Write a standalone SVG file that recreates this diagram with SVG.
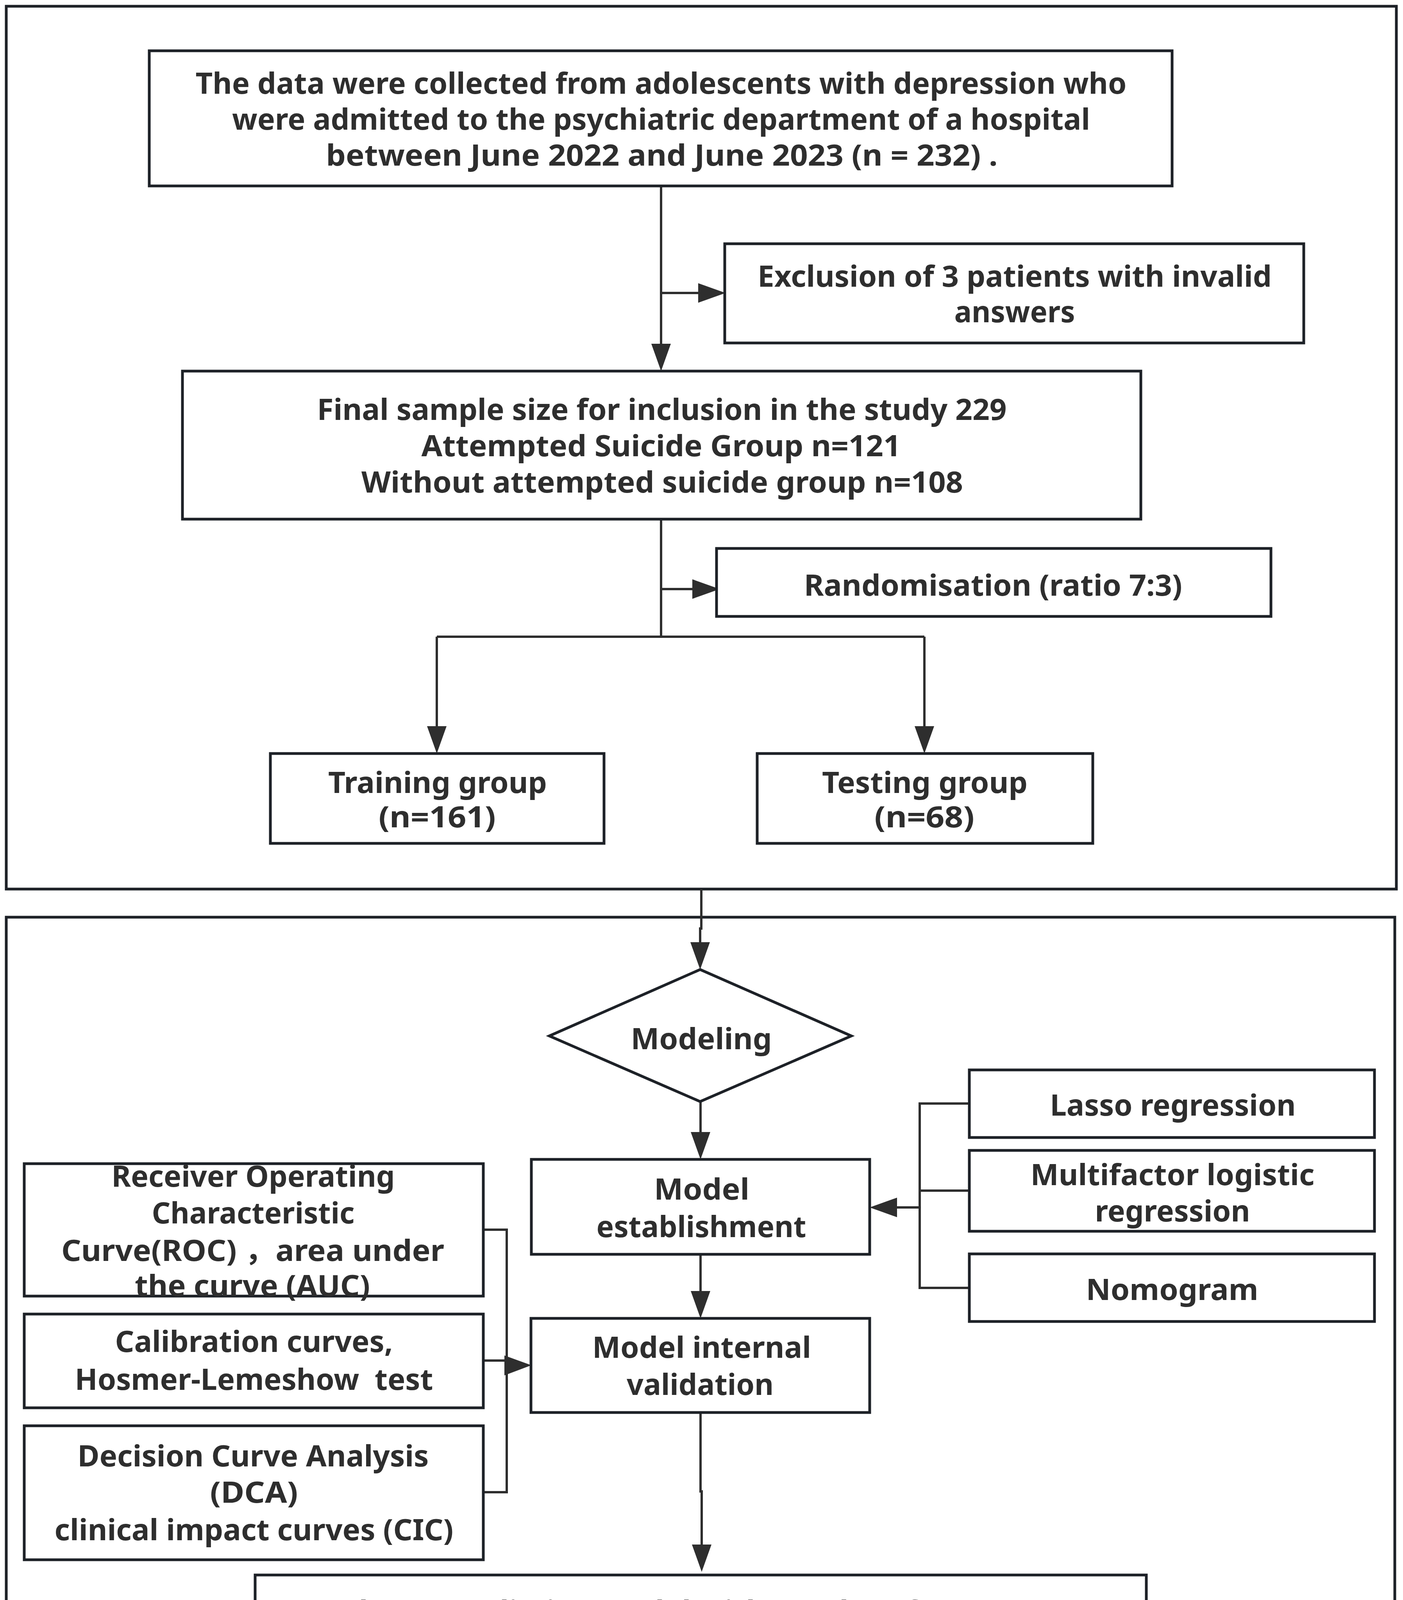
<svg xmlns="http://www.w3.org/2000/svg" width="3591" height="4577" viewBox="0 0 3591 4577">
<style>
.bg{fill:#ffffff}
.frame{fill:none;stroke:#1d2127;stroke-width:7}
.box{fill:#ffffff;stroke:#1d2127;stroke-width:7}
.c{fill:none;stroke:#2e2e2e;stroke-width:6}
.ah{fill:#2e2e2e}
.t{font-family:"Noto Sans","Liberation Sans","Noto Sans CJK SC",sans-serif;font-weight:700;font-size:76px;fill:#2e2e2e;text-anchor:middle}
</style>
<defs>
<marker id="arr" viewBox="0 0 70 50" refX="0" refY="25" markerWidth="70" markerHeight="50" markerUnits="userSpaceOnUse" orient="auto">
<path class="ah" d="M0,0 L70,25 L0,50 Z"/>
</marker>
</defs>
<rect class="bg" x="0" y="0" width="3591" height="4577"/>
<g id="frames">
<rect class="frame" x="16" y="16" width="3558" height="2260"/>
<rect class="frame" x="16" y="2348" width="3554" height="2215"/>
</g>
<g id="connectors">
<path class="c" d="M1692,476 V880" marker-end="url(#arr)"/>
<path class="c" d="M1692,750 H1787" marker-end="url(#arr)"/>
<path class="c" d="M1692,1329 V1630"/>
<path class="c" d="M1692,1508 H1772" marker-end="url(#arr)"/>
<path class="c" d="M1118,1630 H2366"/>
<path class="c" d="M1118,1630 V1859" marker-end="url(#arr)"/>
<path class="c" d="M2366,1630 V1859" marker-end="url(#arr)"/>
<path class="c" d="M1795,2276 V2377 H1792 V2412" marker-end="url(#arr)"/>
<path class="c" d="M1793,2820 V2898" marker-end="url(#arr)"/>
<path class="c" d="M1793,3211 V3305" marker-end="url(#arr)"/>
<path class="c" d="M2481,2825 H2354 V3297 H2481"/>
<path class="c" d="M2354,3048 H2481"/>
<path class="c" d="M2354,3091 H2296" marker-end="url(#arr)"/>
<path class="c" d="M1237,3148 H1297 V3820 H1237"/>
<path class="c" d="M1237,3483 H1297"/>
<polygon class="ah" points="1291,3470 1360,3495 1291,3521"/>
<path class="c" d="M1793,3616 V3818 H1796 V3954" marker-end="url(#arr)"/>
</g>
<g id="node-data">
<rect class="box" x="382" y="130" width="2618" height="346"/>
<text class="t" x="1692" y="240" textLength="2383" lengthAdjust="spacingAndGlyphs">The data were collected from adolescents with depression who</text>
<text class="t" x="1692" y="332" textLength="2196" lengthAdjust="spacingAndGlyphs">were admitted to the psychiatric department of a hospital</text>
<text class="t" x="1694" y="424" textLength="1719" lengthAdjust="spacingAndGlyphs">between June 2022 and June 2023 (n = 232) .</text>
</g>
<g id="node-exclusion">
<rect class="box" x="1855" y="624" width="1482" height="254"/>
<text class="t" x="2597" y="734" textLength="1316" lengthAdjust="spacingAndGlyphs">Exclusion of 3 patients with invalid</text>
<text class="t" x="2597" y="825" textLength="309" lengthAdjust="spacingAndGlyphs">answers</text>
</g>
<g id="node-sample">
<rect class="box" x="467" y="950" width="2453" height="379"/>
<text class="t" x="1694" y="1075" textLength="1765" lengthAdjust="spacingAndGlyphs">Final sample size for inclusion in the study 229</text>
<text class="t" x="1692" y="1168" textLength="1227" lengthAdjust="spacingAndGlyphs">Attempted Suicide Group n=121</text>
<text class="t" x="1695" y="1261" textLength="1540" lengthAdjust="spacingAndGlyphs">Without attempted suicide group n=108</text>
</g>
<g id="node-randomisation">
<rect class="box" x="1834" y="1404" width="1419" height="174"/>
<text class="t" x="2542" y="1525" textLength="968" lengthAdjust="spacingAndGlyphs">Randomisation (ratio 7:3)</text>
</g>
<g id="node-training">
<rect class="box" x="692" y="1929" width="854" height="230"/>
<text class="t" x="1120" y="2030" textLength="560" lengthAdjust="spacingAndGlyphs">Training group</text>
<text class="t" x="1119" y="2118" textLength="300" lengthAdjust="spacingAndGlyphs">(n=161)</text>
</g>
<g id="node-testing">
<rect class="box" x="1938" y="1929" width="859" height="230"/>
<text class="t" x="2367" y="2030" textLength="526" lengthAdjust="spacingAndGlyphs">Testing group</text>
<text class="t" x="2366" y="2118" textLength="256" lengthAdjust="spacingAndGlyphs">(n=68)</text>
</g>
<g id="node-modeling">
<polygon class="box" points="1792,2482 2179,2652 1792,2820 1406,2652"/>
<text class="t" x="1795" y="2686" textLength="361" lengthAdjust="spacingAndGlyphs">Modeling</text>
</g>
<g id="node-establishment">
<rect class="box" x="1360" y="2968" width="866" height="243"/>
<text class="t" x="1796" y="3071" textLength="244" lengthAdjust="spacingAndGlyphs">Model</text>
<text class="t" x="1795" y="3167" textLength="537" lengthAdjust="spacingAndGlyphs">establishment</text>
</g>
<g id="node-lasso">
<rect class="box" x="2481" y="2739" width="1037" height="173"/>
<text class="t" x="3002" y="2856" textLength="629" lengthAdjust="spacingAndGlyphs">Lasso regression</text>
</g>
<g id="node-multifactor">
<rect class="box" x="2481" y="2945" width="1037" height="207"/>
<text class="t" x="3001" y="3034" textLength="727" lengthAdjust="spacingAndGlyphs">Multifactor logistic</text>
<text class="t" x="3001" y="3127" textLength="397" lengthAdjust="spacingAndGlyphs">regression</text>
</g>
<g id="node-nomogram">
<rect class="box" x="2481" y="3210" width="1037" height="173"/>
<text class="t" x="3000" y="3328" textLength="441" lengthAdjust="spacingAndGlyphs">Nomogram</text>
</g>
<g id="node-roc">
<rect class="box" x="62" y="2979" width="1175" height="339"/>
<text class="t" x="648" y="3038" textLength="725" lengthAdjust="spacingAndGlyphs">Receiver Operating</text>
<text class="t" x="648" y="3132" textLength="519" lengthAdjust="spacingAndGlyphs">Characteristic</text>
<text class="t" x="647" y="3228" textLength="980" lengthAdjust="spacingAndGlyphs">Curve(ROC) ，area under</text>
<text class="t" x="646" y="3318" textLength="602" lengthAdjust="spacingAndGlyphs">the curve (AUC)</text>
</g>
<g id="node-calibration">
<rect class="box" x="62" y="3364" width="1175" height="240"/>
<text class="t" x="650" y="3461" textLength="711" lengthAdjust="spacingAndGlyphs">Calibration curves,</text>
<text class="t" x="650" y="3558" textLength="917" lengthAdjust="spacingAndGlyphs" xml:space="preserve">Hosmer-Lemeshow  test</text>
</g>
<g id="node-dca">
<rect class="box" x="62" y="3650" width="1175" height="343"/>
<text class="t" x="648" y="3754" textLength="899" lengthAdjust="spacingAndGlyphs">Decision Curve Analysis</text>
<text class="t" x="650" y="3847" textLength="225" lengthAdjust="spacingAndGlyphs">(DCA)</text>
<text class="t" x="650" y="3943" textLength="1021" lengthAdjust="spacingAndGlyphs">clinical impact curves (CIC)</text>
</g>
<g id="node-validation">
<rect class="box" x="1359" y="3375" width="867" height="241"/>
<text class="t" x="1796" y="3476" textLength="560" lengthAdjust="spacingAndGlyphs">Model internal</text>
<text class="t" x="1792" y="3571" textLength="376" lengthAdjust="spacingAndGlyphs">validation</text>
</g>
<g id="node-results">
<rect class="box" x="653" y="4032" width="2281" height="471"/>
<text class="t" x="1795" y="4152" textLength="2120" lengthAdjust="spacingAndGlyphs">Results: A predictive model with good performance was</text>
<text class="t" x="1794" y="4247" textLength="1777" lengthAdjust="spacingAndGlyphs">established including six factors: gender, social</text>
<text class="t" x="1794" y="4341" textLength="2029" lengthAdjust="spacingAndGlyphs">frequency, parental relationship, self-harm behaviour,</text>
<text class="t" x="1794" y="4434" textLength="1281" lengthAdjust="spacingAndGlyphs">experience of loss and sleep time.</text>
</g>
</svg>
